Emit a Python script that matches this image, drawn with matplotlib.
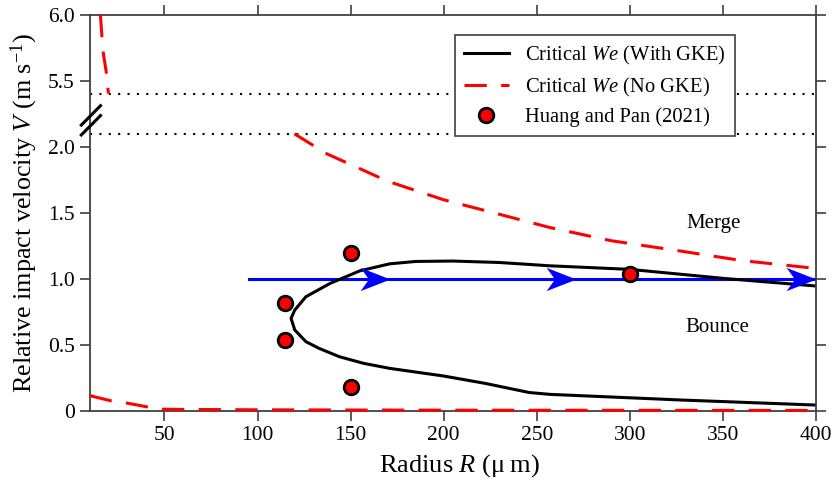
import numpy as np
import matplotlib
matplotlib.use("Agg")
import matplotlib.pyplot as plt
from matplotlib.path import Path
from matplotlib.ticker import FixedLocator, FixedFormatter

plt.rcParams['font.family'] = ['Liberation Serif', 'DejaVu Serif']
plt.rcParams['mathtext.fontset'] = 'custom'
plt.rcParams['mathtext.rm'] = 'Liberation Serif'
plt.rcParams['mathtext.it'] = 'Liberation Serif:italic'

# ---- data ----
# Critical We (With GKE): C-shaped boundary (upper branch -> tip -> lower branch)
gke_R = [400, 350, 300, 257, 230, 205, 185, 171, 155, 139, 126, 120, 118,
         120, 126, 133, 144, 157, 171, 200, 222, 246, 257, 300, 328, 400]
gke_V = [0.947, 1.005, 1.073, 1.10, 1.125, 1.136, 1.133, 1.115, 1.062, 0.967, 0.866, 0.765, 0.702,
         0.614, 0.525, 0.475, 0.411, 0.361, 0.323, 0.265, 0.21, 0.14, 0.126, 0.10, 0.083, 0.045]

# Critical We (No GKE): upper branch shown in two pieces of the broken axis
nogke_top_R = [15.6, 16.9, 18.7, 19.9]
nogke_top_V = [6.0, 5.735, 5.57, 5.405]
nogke_mid_R = [119.8, 137, 170, 200, 230, 257, 290, 328, 360, 400]
nogke_mid_V = [2.10, 1.95, 1.74, 1.60, 1.49, 1.39, 1.29, 1.21, 1.14, 1.08]
# Critical We (No GKE): lower branch
nogke_low_R = [10, 21, 28, 40, 47, 60, 100, 200, 300, 400]
nogke_low_V = [0.116, 0.078, 0.065, 0.033, 0.014, 0.012, 0.009, 0.006, 0.005, 0.004]

# Huang and Pan (2021)
hp_R = [115, 115, 150, 150, 300]
hp_V = [0.82, 0.54, 1.20, 0.18, 1.04]

# blue trajectory
traj_R = [95.6, 400]
traj_V = [1.0, 1.0]
arrow_R = [171, 271, 400]
arrow_V = [1.0, 1.0, 1.0]

ytick_vals = [0, 0.5, 1.0, 1.5, 2.0, 5.5, 6.0]
ytick_labels = ['0', '0.5', '1.0', '1.5', '2.0', '5.5', '6.0']
xtick_vals = [50, 100, 150, 200, 250, 300, 350, 400]
break_low, break_high = 2.1, 5.4


def fwd(v):
    v = np.asarray(v, float)
    return np.where(v <= 2.1, v,
                    np.where(v >= 5.4, v - 3.0, 2.1 + (v - 2.1) * (0.3 / 3.3)))


def inv(y):
    y = np.asarray(y, float)
    return np.where(y <= 2.1, y,
                    np.where(y >= 2.4, y + 3.0, 2.1 + (y - 2.1) * 11.0))


fig = plt.figure(figsize=(8.34, 4.88), dpi=100)
ax = fig.add_axes([90 / 834, 77 / 488, 726 / 834, 396 / 488])
ax.set_yscale('function', functions=(fwd, inv))
ax.set_xlim(10, 400)
ax.set_ylim(0, 6.0)

lw = 2.2
dash = (7.3, 4.7)
ax.axhline(break_high, color='black', lw=1.5, dashes=(1, 3.5), zorder=1)
ax.axhline(break_low, color='black', lw=1.5, dashes=(1, 3.5), zorder=1)

ax.plot(traj_R, traj_V, color='blue', lw=lw, zorder=2)
arrow_path = Path([(0, 0), (-1, 0.39), (-0.72, 0), (-1, -0.39), (0, 0)],
                  [Path.MOVETO, Path.LINETO, Path.LINETO, Path.LINETO, Path.CLOSEPOLY])
ax.plot(arrow_R, arrow_V, linestyle='none', marker=arrow_path, markersize=43,
        color='blue', markeredgewidth=0, zorder=3, clip_on=False)

l1, = ax.plot(gke_R, gke_V, color='black', lw=lw, zorder=2.5,
              label='Critical $We$ (With GKE)')
l2, = ax.plot(nogke_mid_R, nogke_mid_V, color='red', lw=lw, dashes=dash, zorder=3,
              label='Critical $We$ (No GKE)')
ax.plot(nogke_top_R, nogke_top_V, color='red', lw=lw, dashes=dash, zorder=3)
ax.plot(nogke_low_R, nogke_low_V, color='red', lw=lw, dashes=dash, zorder=3,
        clip_on=False)
l3, = ax.plot(hp_R, hp_V, linestyle='none', marker='o', markersize=10.5,
              markerfacecolor='red', markeredgecolor='black', markeredgewidth=2,
              zorder=5, label='Huang and Pan (2021)')

ax.text(345, 1.417, 'Merge', fontsize=15, ha='center', va='center')
ax.text(347, 0.636, 'Bounce', fontsize=15, ha='center', va='center')

ax.yaxis.set_major_locator(FixedLocator(ytick_vals))
ax.yaxis.set_major_formatter(FixedFormatter(ytick_labels))
ax.yaxis.set_minor_locator(FixedLocator([]))
ax.set_xticks(xtick_vals)
ax.set_xticklabels([str(v) for v in xtick_vals])
ax.tick_params(axis='both', which='major', direction='out', length=7, width=1.2,
               color='#404040', labelsize=15.5, top=True, right=True, pad=4)
for s in ax.spines.values():
    s.set_color('#404040')
    s.set_linewidth(1.3)

ax.set_xlabel('Radius $R$ (μ\u2009m)', fontsize=19, labelpad=4)
ax.xaxis.set_label_coords(0.5 + 6 / 726, -0.105)
ax.set_ylabel('Relative impact velocity $V$ (m s$^{-1}$)', fontsize=18.8, labelpad=6)

# break marks on the left spine
for y0 in (0.722, 0.697):
    ax.plot([-0.012, 0.0145], [y0, y0 + 0.049], transform=ax.transAxes,
            color='black', lw=2.2, clip_on=False, zorder=6)

leg = ax.legend(handles=[l1, l2, l3], loc='upper right',
                bbox_to_anchor=(0.888, 0.949), borderaxespad=0, fontsize=14.8,
                fancybox=False, framealpha=1, edgecolor='#404040',
                handlelength=2.2, handletextpad=0.8, borderpad=0.42,
                labelspacing=0.42)
leg.get_frame().set_linewidth(1.2)
leg.set_zorder(10)

fig.savefig('out.png', dpi=100)
